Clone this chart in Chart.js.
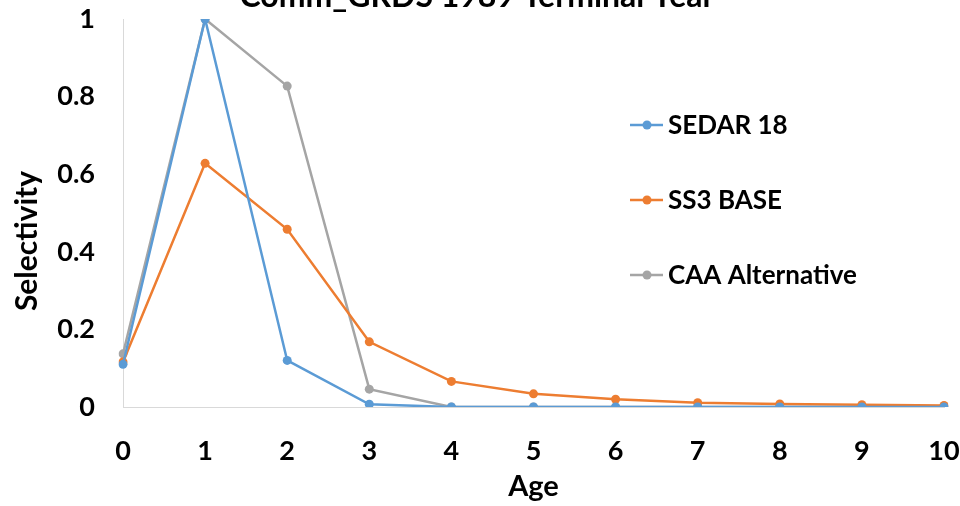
<!DOCTYPE html>
<html>
<head>
<meta charset="utf-8">
<script src="https://cdn.jsdelivr.net/npm/chart.js@4.4.1/dist/chart.umd.min.js"></script>
<style>
html,body{margin:0;padding:0;background:#fff;}
#wrap{width:960px;height:506px;position:relative;}
</style>
</head>
<body>
<div id="wrap"><canvas id="c" width="960" height="506"></canvas></div>
<script>
const chartTitle = "Comm_GRDS 1989 Terminal Year";
const yAxisTitle = "Selectivity";
const xAxisTitle = "Age";
const ages = ["0","1","2","3","4","5","6","7","8","9","10"];
const sedar18 = [0.11, 1.0, 0.12, 0.007, 0, 0, 0, 0, 0, 0, 0];
const ss3Base = [0.116, 0.628, 0.458, 0.168, 0.066, 0.034, 0.020, 0.011, 0.008, 0.006, 0.004];
const caaAlt = [0.137, 1.0, 0.827, 0.046, 0, 0, 0, 0, 0, 0, 0];
const seriesNames = ["SEDAR 18", "SS3 BASE", "CAA Alternative"];
const yTicks = [0, 0.2, 0.4, 0.6, 0.8, 1];

const FONT = "Lato";
const colors = ["#5B9BD5", "#ED7D31", "#A5A5A5"];

const textPlugin = {
  id: 'texts',
  afterDraw(chart) {
    const ctx = chart.ctx;
    ctx.save();
    ctx.font = "bold 32px " + FONT;
    ctx.fillStyle = "#000";
    ctx.textAlign = "center";
    ctx.textBaseline = "alphabetic";
    ctx.fillText(chartTitle, 477, 7);
    ctx.translate(27, 241);
    ctx.rotate(-Math.PI / 2);
    ctx.font = "bold 30px " + FONT;
    ctx.textBaseline = "middle";
    ctx.fillText(yAxisTitle, 0, 0);
    ctx.restore();
  }
};

const legendPlugin = {
  id: 'inLegend',
  afterDraw(chart) {
    const ctx = chart.ctx;
    ctx.save();
    ctx.font = "bold 26px " + FONT;
    ctx.textBaseline = "middle";
    ctx.textAlign = "left";
    chart.data.datasets.forEach((ds, i) => {
      const y = 125 + i * 75;
      ctx.strokeStyle = ds.borderColor;
      ctx.lineWidth = 2.5;
      ctx.beginPath();
      ctx.moveTo(630, y);
      ctx.lineTo(663, y);
      ctx.stroke();
      ctx.fillStyle = ds.borderColor;
      ctx.beginPath();
      ctx.arc(647, y, 4.5, 0, Math.PI * 2);
      ctx.fill();
      ctx.fillStyle = "#000";
      ctx.fillText(ds.label, 668, y + 1);
    });
    ctx.restore();
  }
};

const mk = (label, data, color) => ({
  label, data,
  borderColor: color, backgroundColor: color,
  borderWidth: 2.5, pointRadius: 4.5, pointHoverRadius: 4.5,
  pointBorderWidth: 0, tension: 0
});

new Chart(document.getElementById('c'), {
  type: 'line',
  data: {
    labels: ages,
    datasets: [
      mk(seriesNames[0], sedar18, colors[0]),
      mk(seriesNames[1], ss3Base, colors[1]),
      mk(seriesNames[2], caaAlt, colors[2])
    ]
  },
  options: {
    responsive: false,
    animation: false,
    devicePixelRatio: 1,
    layout: { padding: { top: 19, right: 16, left: 0, bottom: 0 } },
    plugins: { legend: { display: false }, tooltip: { enabled: false }, title: { display: false } },
    scales: {
      x: {
        offset: false,
        grid: { display: false, drawTicks: false },
        border: { display: true, color: '#d9d9d9', width: 1 },
        ticks: { color: '#000', font: { family: FONT, size: 27, weight: 'bold' }, padding: 28, maxRotation: 0 },
        title: { display: true, text: xAxisTitle, color: '#000', padding: { top: 0, bottom: 2 }, font: { family: FONT, size: 29, weight: 'bold' } },
        afterFit(s) { s.height = 99; s.paddingLeft = 0; s.paddingRight = 0; }
      },
      y: {
        min: 0, max: 1,
        afterBuildTicks(s) { s.ticks = yTicks.map(v => ({ value: v })); },
        grid: { display: false, drawTicks: false },
        border: { display: true, color: '#d9d9d9', width: 1 },
        ticks: { color: '#000', font: { family: FONT, size: 27, weight: 'bold' }, padding: 28, callback: v => String(v) },
        title: { display: false },
        afterFit(s) { s.width = 123; s.paddingTop = 0; s.paddingBottom = 0; }
      }
    }
  },
  plugins: [textPlugin, legendPlugin]
});
</script>
</body>
</html>
